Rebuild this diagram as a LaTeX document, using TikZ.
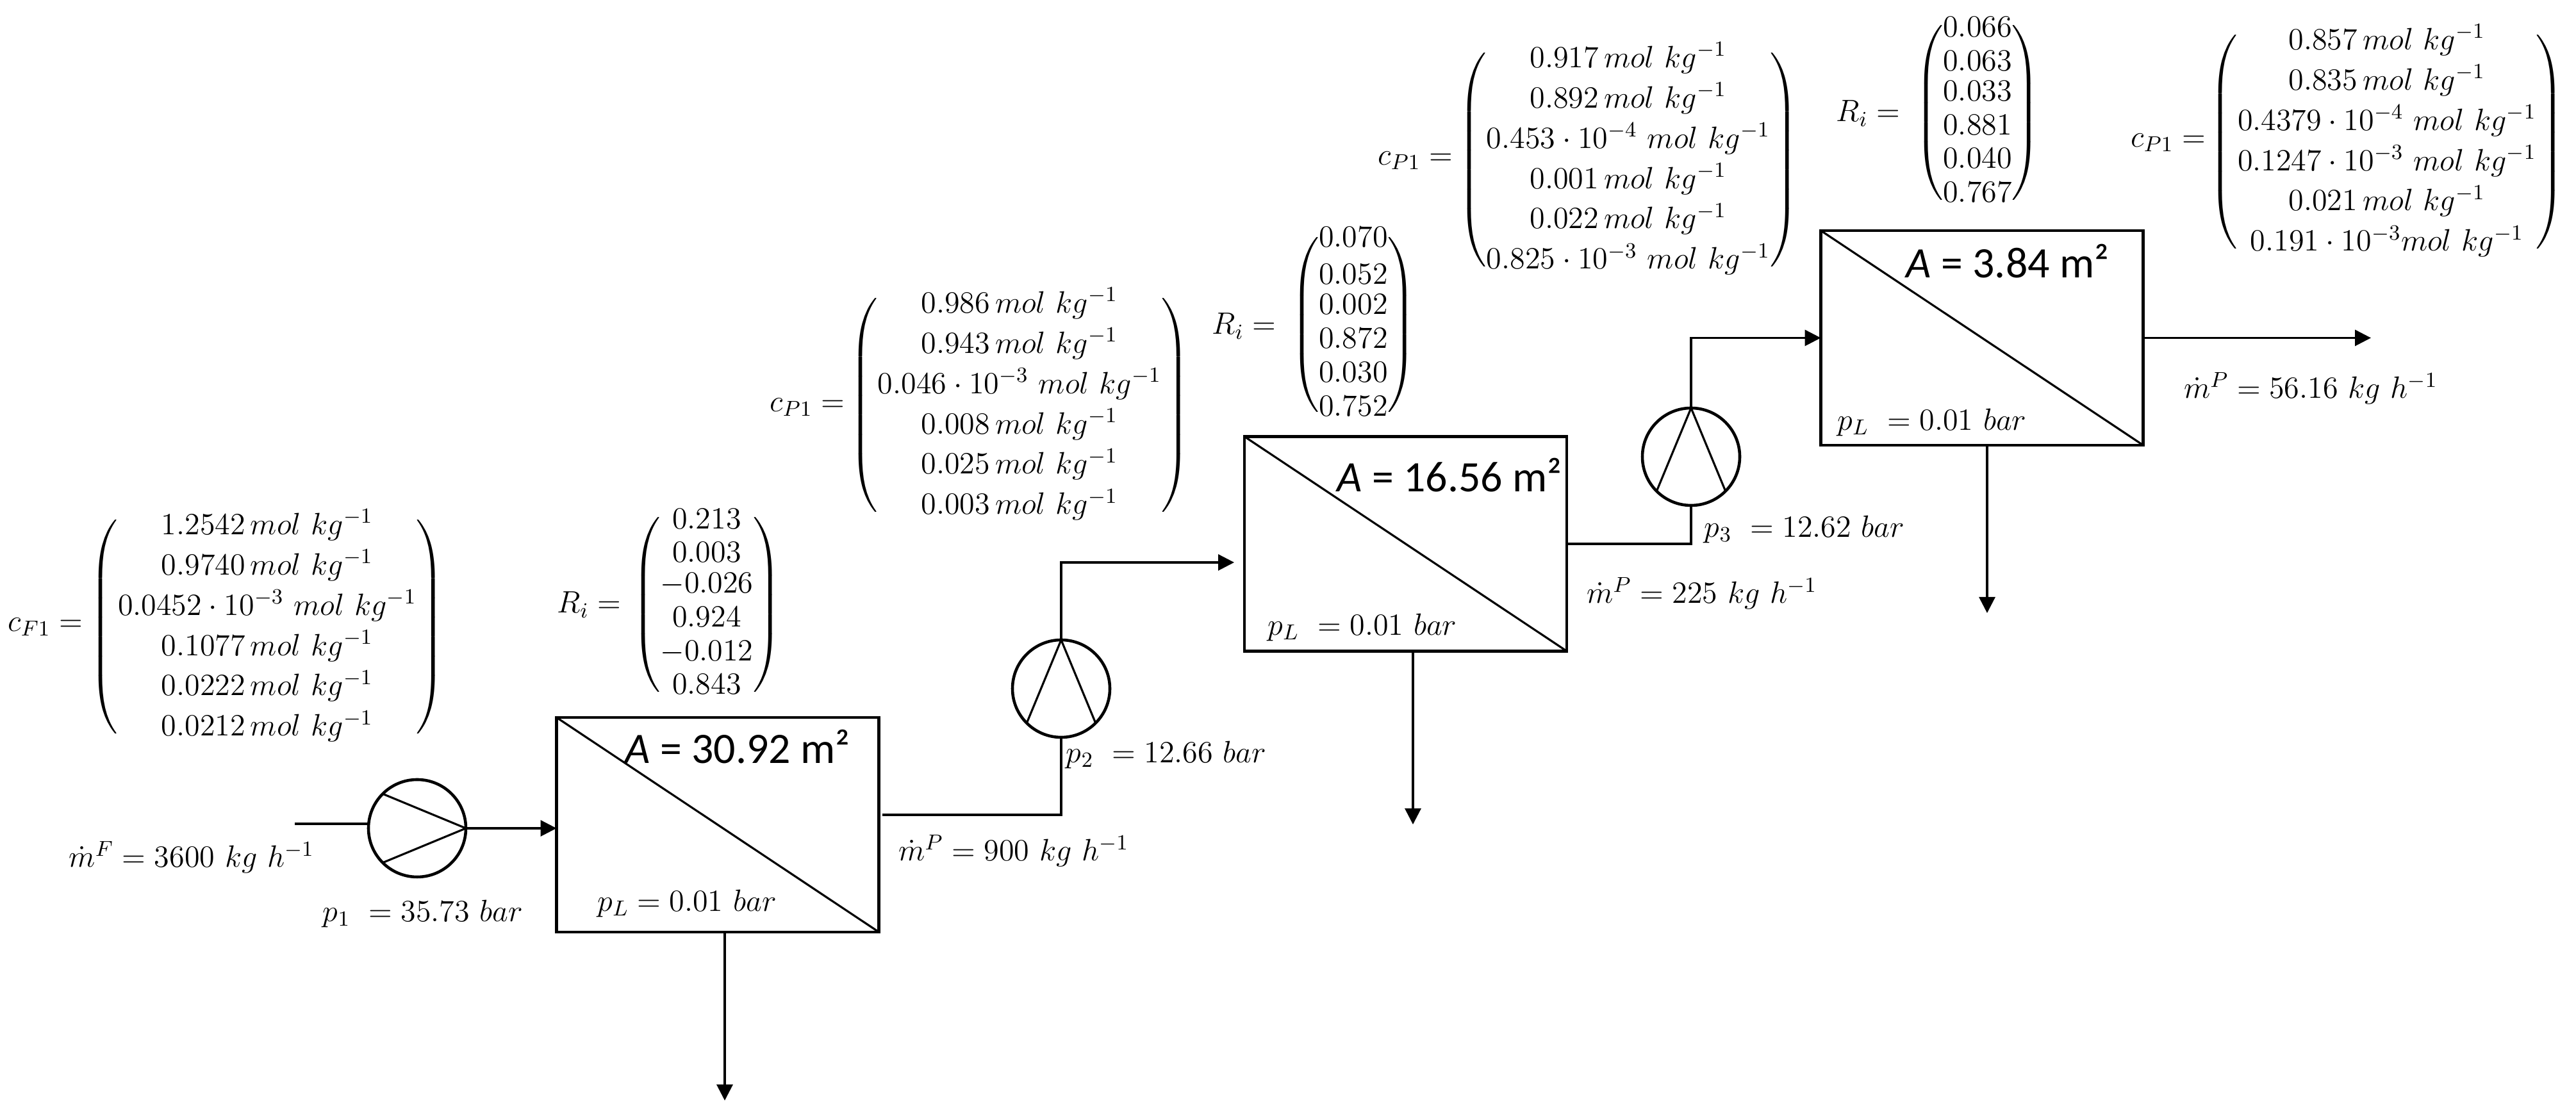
\documentclass[tikz,border=0pt]{standalone}
\usepackage{fix-cm}
\usepackage{amsmath}
\usepackage{fontspec}
\setsansfont{Carlito}
\usetikzlibrary{arrows.meta}
\newcommand{\colvec}[2]{\renewcommand{\arraystretch}{#1}\delimiterfactor=850 \delimitershortfall=16pt $\left(\begin{matrix}#2\end{matrix}\right)$}
\newcommand{\molkg}{\,mol\ kg^{-1}}
\tikzset{
  every node/.style={font=\fontsize{13.7}{10}\selectfont,inner sep=0pt,outer sep=0pt},
  membox/.style={draw,line width=1.3pt,minimum width=5.03cm,minimum height=3.35cm},
  pumpring/.style={draw,circle,line width=1.3pt,minimum size=1.52cm},
  flow/.style={line width=0.9pt},
  flowarrow/.style={line width=0.9pt,-{Triangle[length=0.25cm,width=0.25cm]}},
  arealabel/.style={font=\fontsize{19.3}{20}\sffamily\selectfont}
}
\begin{document}
\begin{tikzpicture}
\useasboundingbox (0,0) rectangle (40.2,17.39);
% First stage
\node[membox] (mem1) at (11.20,4.515) {};
\node[pumpring] (pump1) at (6.51,4.46) {};
\coordinate (feedin) at (4.60,4.53);
\coordinate (perm1) at (13.77,4.67);
\coordinate (ret1) at (11.31,0.21);
\draw[flow] (mem1.north west) -- (mem1.south east);
\draw[flow] (pump1.east) -- (pump1.135);
\draw[flow] (pump1.east) -- (pump1.225);
\draw[flow] (feedin) -- (feedin -| pump1.west);
\draw[flowarrow] (pump1.east) -- (mem1.west |- pump1.east);
\draw[flowarrow] (mem1.south -| ret1) -- (ret1);
\node[arealabel] (area1) at (11.51,5.73) {\textit{A} = 30.92 m²};
\node (lowp1) at (10.72,3.29) {$p_L = 0.01\ bar$};
\node (feedrate) at (2.99,4.01) {$\dot m^F = 3600\ kg\ h^{-1}$};
\node (press1) at (6.60,3.13) {$p_1\ = 35.73\ bar$};
\node[anchor=east] (cflabel) at (1.29,7.60) {$c_{F1} =$};
\node (cfeed) at (4.17,7.60) {\colvec{1.79}{1.2542\molkg\\0.9740\molkg\\0.0452\cdot 10^{-3}\ mol\ kg^{-1}\\0.1077\molkg\\0.0222\molkg\\0.0212\molkg}};
\node[anchor=east] (rlabel1) at (9.69,7.95) {$R_i =$};
\node (rej1) at (11.03,7.95) {\colvec{1.5}{0.213\\0.003\\[-1.4pt]-0.026\\0.924\\-0.012\\0.843}};

% Second stage
\node[membox] (mem2) at (21.935,8.90) {};
\node[pumpring] (pump2) at (16.56,6.64) {};
\coordinate (in2) at (19.26,8.61);
\coordinate (ret2) at (22.05,4.52);
\draw[flow] (mem2.north west) -- (mem2.south east);
\draw[flow] (pump2.north) -- (pump2.225);
\draw[flow] (pump2.north) -- (pump2.315);
\draw[flow] (perm1) -| (pump2.south);
\draw[flowarrow] (pump2.north) |- (in2);
\draw[flowarrow] (mem2.south -| ret2) -- (ret2);
\node[arealabel] (area2) at (22.62,9.97) {\textit{A} = 16.56 m²};
\node (lowp2) at (21.26,7.60) {$p_L\ = 0.01\ bar$};
\node (rate1) at (15.82,4.11) {$\dot m^P = 900\ kg\ h^{-1}$};
\node (press2) at (18.20,5.61) {$p_2\ = 12.66\ bar$};
\node[anchor=east] (cplabel1) at (13.18,11.03) {$c_{P1} =$};
\node (cperm1) at (15.91,11.06) {\colvec{1.79}{0.986\molkg\\0.943\molkg\\0.046\cdot 10^{-3}\ mol\ kg^{-1}\\0.008\molkg\\0.025\molkg\\0.003\molkg}};
\node[anchor=east] (rlabel2) at (19.91,12.30) {$R_i =$};
\node (rej2) at (21.12,12.32) {\colvec{1.5}{0.070\\[1.5pt]0.052\\[-1.6pt]0.002\\0.872\\0.030\\0.752}};

% Third stage
\node[membox] (mem3) at (30.93,12.115) {};
\node[pumpring] (pump3) at (26.39,10.26) {};
\coordinate (prod3) at (37.00,12.115);
\coordinate (ret3) at (31.01,7.82);
\draw[flow] (mem3.north west) -- (mem3.south east);
\draw[flow] (pump3.north) -- (pump3.225);
\draw[flow] (pump3.north) -- (pump3.315);
\draw[flow] (mem2.east) -| (pump3.south);
\draw[flowarrow] (pump3.north) |- (mem3.west);
\draw[flowarrow] (mem3.south -| ret3) -- (ret3);
\draw[flowarrow] (mem3.east) -- (prod3);
\node[arealabel] (area3) at (31.33,13.31) {\textit{A} = 3.84 m²};
\node (lowp3) at (30.15,10.80) {$p_L\ = 0.01\ bar$};
\node (rate2) at (26.56,8.13) {$\dot m^P = 225\ kg\ h^{-1}$};
\node (press3) at (28.16,9.13) {$p_3\ = 12.62\ bar$};
\node (rate3) at (36.06,11.33) {$\dot m^P = 56.16\ kg\ h^{-1}$};
\node[anchor=east] (cplabel2) at (22.67,14.88) {$c_{P1} =$};
\node (cperm2) at (25.41,14.89) {\colvec{1.79}{0.917\molkg\\0.892\molkg\\0.453\cdot 10^{-4}\ mol\ kg^{-1}\\0.001\molkg\\0.022\molkg\\0.825\cdot 10^{-3}\ mol\ kg^{-1}}};
\node[anchor=east] (rlabel3) at (29.65,15.62) {$R_i =$};
\node (rej3) at (30.86,15.63) {\colvec{1.5}{0.066\\0.063\\[-1.6pt]0.033\\0.881\\0.040\\0.767}};
\node[anchor=east] (cplabel3) at (34.42,15.16) {$c_{P1} =$};
\node (cperm3) at (37.25,15.17) {\colvec{1.79}{0.857\molkg\\0.835\molkg\\0.4379\cdot 10^{-4}\ mol\ kg^{-1}\\0.1247\cdot 10^{-3}\ mol\ kg^{-1}\\0.021\molkg\\0.191\cdot 10^{-3}mol\ kg^{-1}}};
\end{tikzpicture}
\end{document}
